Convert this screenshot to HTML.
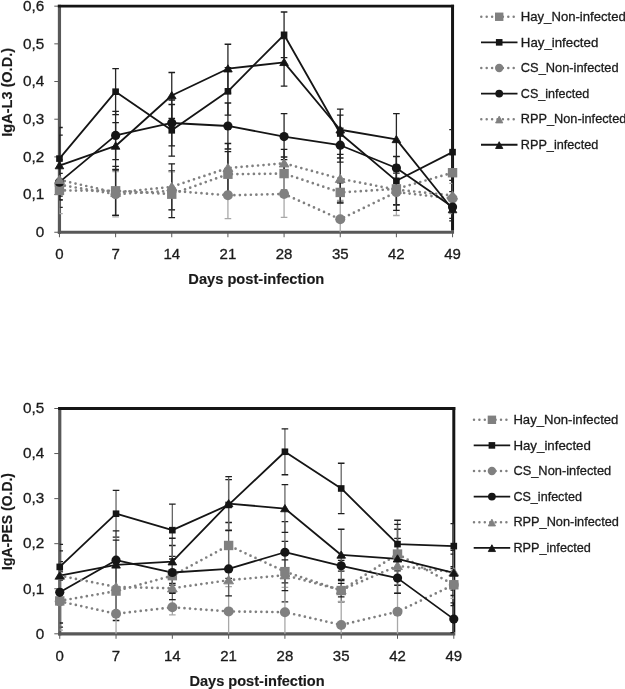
<!DOCTYPE html>
<html><head><meta charset="utf-8"><style>
html,body{margin:0;padding:0;background:#fff;}
body{width:625px;height:689px;overflow:hidden;}
svg{display:block;font-family:"Liberation Sans", sans-serif;filter:grayscale(1);}
text{stroke:#1a1a1a;stroke-width:0.3px;paint-order:stroke;}
text.b{stroke-width:0.15px;}
</style></head><body>
<svg width="625" height="689" viewBox="0 0 625 689">
<rect width="625" height="689" fill="#fff"/>
<line x1="54.3" y1="232.25" x2="59.45" y2="232.25" stroke="#585858" stroke-width="1"/>
<text x="44.2" y="237.05" text-anchor="end" font-size="15.3" fill="#1a1a1a">0</text>
<line x1="54.3" y1="194.57" x2="59.45" y2="194.57" stroke="#585858" stroke-width="1"/>
<text x="44.2" y="199.37" text-anchor="end" font-size="15.3" fill="#1a1a1a">0,1</text>
<line x1="54.3" y1="156.89" x2="59.45" y2="156.89" stroke="#585858" stroke-width="1"/>
<text x="44.2" y="161.69" text-anchor="end" font-size="15.3" fill="#1a1a1a">0,2</text>
<line x1="54.3" y1="119.21" x2="59.45" y2="119.21" stroke="#585858" stroke-width="1"/>
<text x="44.2" y="124.01" text-anchor="end" font-size="15.3" fill="#1a1a1a">0,3</text>
<line x1="54.3" y1="81.53" x2="59.45" y2="81.53" stroke="#585858" stroke-width="1"/>
<text x="44.2" y="86.33" text-anchor="end" font-size="15.3" fill="#1a1a1a">0,4</text>
<line x1="54.3" y1="43.85" x2="59.45" y2="43.85" stroke="#585858" stroke-width="1"/>
<text x="44.2" y="48.65" text-anchor="end" font-size="15.3" fill="#1a1a1a">0,5</text>
<line x1="54.3" y1="6.17" x2="59.45" y2="6.17" stroke="#585858" stroke-width="1"/>
<text x="44.2" y="10.97" text-anchor="end" font-size="15.3" fill="#1a1a1a">0,6</text>
<line x1="59.45" y1="232.25" x2="59.45" y2="237.25" stroke="#585858" stroke-width="1"/>
<text x="59.45" y="259.30" text-anchor="middle" font-size="15" fill="#1a1a1a">0</text>
<line x1="115.61" y1="232.25" x2="115.61" y2="237.25" stroke="#585858" stroke-width="1"/>
<text x="115.61" y="259.30" text-anchor="middle" font-size="15" fill="#1a1a1a">7</text>
<line x1="171.76" y1="232.25" x2="171.76" y2="237.25" stroke="#585858" stroke-width="1"/>
<text x="171.76" y="259.30" text-anchor="middle" font-size="15" fill="#1a1a1a">14</text>
<line x1="227.92" y1="232.25" x2="227.92" y2="237.25" stroke="#585858" stroke-width="1"/>
<text x="227.92" y="259.30" text-anchor="middle" font-size="15" fill="#1a1a1a">21</text>
<line x1="284.08" y1="232.25" x2="284.08" y2="237.25" stroke="#585858" stroke-width="1"/>
<text x="284.08" y="259.30" text-anchor="middle" font-size="15" fill="#1a1a1a">28</text>
<line x1="340.24" y1="232.25" x2="340.24" y2="237.25" stroke="#585858" stroke-width="1"/>
<text x="340.24" y="259.30" text-anchor="middle" font-size="15" fill="#1a1a1a">35</text>
<line x1="396.39" y1="232.25" x2="396.39" y2="237.25" stroke="#585858" stroke-width="1"/>
<text x="396.39" y="259.30" text-anchor="middle" font-size="15" fill="#1a1a1a">42</text>
<line x1="452.55" y1="232.25" x2="452.55" y2="237.25" stroke="#585858" stroke-width="1"/>
<text x="452.55" y="259.30" text-anchor="middle" font-size="15" fill="#1a1a1a">49</text>
<line x1="59.45" y1="4.77" x2="59.45" y2="233.85" stroke="#585858" stroke-width="3.2"/>
<line x1="57.85" y1="232.25" x2="454.05" y2="232.25" stroke="#585858" stroke-width="3.2"/>
<line x1="57.85" y1="6.17" x2="454.05" y2="6.17" stroke="#151515" stroke-width="2.8"/>
<line x1="452.55" y1="4.77" x2="452.55" y2="230.65" stroke="#151515" stroke-width="3"/>
<clipPath id="clipL3"><rect x="59.45" y="6.17" width="393.10" height="226.08"/></clipPath>
<g clip-path="url(#clipL3)">
<path d="M59.45,173.47V207.38" stroke="#262626" stroke-width="1.3" fill="none"/>
<path d="M56.15,173.47h6.6M56.15,207.38h6.6" stroke="#1e1e1e" stroke-width="1.3" fill="none"/>
<path d="M115.61,166.31V215.29" stroke="#262626" stroke-width="1.3" fill="none"/>
<path d="M112.31,166.31h6.6M112.31,215.29h6.6" stroke="#1e1e1e" stroke-width="1.3" fill="none"/>
<path d="M171.76,170.83V217.55" stroke="#262626" stroke-width="1.3" fill="none"/>
<path d="M168.46,170.83h6.6M168.46,217.55h6.6" stroke="#1e1e1e" stroke-width="1.3" fill="none"/>
<path d="M227.92,151.61V196.83" stroke="#262626" stroke-width="1.3" fill="none"/>
<path d="M224.62,151.61h6.6M224.62,196.83h6.6" stroke="#1e1e1e" stroke-width="1.3" fill="none"/>
<path d="M284.08,157.00V190.16" stroke="#262626" stroke-width="1.3" fill="none"/>
<path d="M280.78,157.00h6.6M280.78,190.16h6.6" stroke="#1e1e1e" stroke-width="1.3" fill="none"/>
<path d="M340.24,182.74V202.11" stroke="#262626" stroke-width="1.3" fill="none"/>
<path d="M336.94,182.74h6.6M336.94,202.11h6.6" stroke="#1e1e1e" stroke-width="1.3" fill="none"/>
<path d="M396.39,173.09V204.74" stroke="#262626" stroke-width="1.3" fill="none"/>
<path d="M393.09,173.09h6.6M393.09,204.74h6.6" stroke="#1e1e1e" stroke-width="1.3" fill="none"/>
<path d="M452.55,153.88V191.56" stroke="#262626" stroke-width="1.3" fill="none"/>
<path d="M449.25,153.88h6.6M449.25,191.56h6.6" stroke="#1e1e1e" stroke-width="1.3" fill="none"/>
<path d="M59.45,127.50V189.67" stroke="#262626" stroke-width="1.3" fill="none"/>
<path d="M56.15,127.50h6.6M56.15,189.67h6.6" stroke="#1e1e1e" stroke-width="1.3" fill="none"/>
<path d="M115.61,68.72V114.69" stroke="#262626" stroke-width="1.3" fill="none"/>
<path d="M112.31,68.72h6.6M112.31,114.69h6.6" stroke="#1e1e1e" stroke-width="1.3" fill="none"/>
<path d="M171.76,104.51V156.14" stroke="#262626" stroke-width="1.3" fill="none"/>
<path d="M168.46,104.51h6.6M168.46,156.14h6.6" stroke="#1e1e1e" stroke-width="1.3" fill="none"/>
<path d="M227.92,67.59V115.07" stroke="#262626" stroke-width="1.3" fill="none"/>
<path d="M224.62,67.59h6.6M224.62,115.07h6.6" stroke="#1e1e1e" stroke-width="1.3" fill="none"/>
<path d="M284.08,12.01V57.60" stroke="#262626" stroke-width="1.3" fill="none"/>
<path d="M280.78,12.01h6.6M280.78,57.60h6.6" stroke="#1e1e1e" stroke-width="1.3" fill="none"/>
<path d="M340.24,109.04V158.02" stroke="#262626" stroke-width="1.3" fill="none"/>
<path d="M336.94,109.04h6.6M336.94,158.02h6.6" stroke="#1e1e1e" stroke-width="1.3" fill="none"/>
<path d="M396.39,156.70V204.93" stroke="#262626" stroke-width="1.3" fill="none"/>
<path d="M393.09,156.70h6.6M393.09,204.93h6.6" stroke="#1e1e1e" stroke-width="1.3" fill="none"/>
<path d="M452.55,129.53V174.75" stroke="#262626" stroke-width="1.3" fill="none"/>
<path d="M449.25,129.53h6.6M449.25,174.75h6.6" stroke="#1e1e1e" stroke-width="1.3" fill="none"/>
<path d="M59.45,155.95V213.60" stroke="#a8a8a8" stroke-width="1.3" fill="none"/>
<path d="M56.15,155.95h6.6M56.15,213.60h6.6" stroke="#a8a8a8" stroke-width="1.3" fill="none"/>
<path d="M115.61,171.59V216.80" stroke="#a8a8a8" stroke-width="1.3" fill="none"/>
<path d="M112.31,171.59h6.6M112.31,216.80h6.6" stroke="#a8a8a8" stroke-width="1.3" fill="none"/>
<path d="M171.76,171.96V209.64" stroke="#a8a8a8" stroke-width="1.3" fill="none"/>
<path d="M168.46,171.96h6.6M168.46,209.64h6.6" stroke="#a8a8a8" stroke-width="1.3" fill="none"/>
<path d="M227.92,171.96V218.69" stroke="#a8a8a8" stroke-width="1.3" fill="none"/>
<path d="M224.62,171.96h6.6M224.62,218.69h6.6" stroke="#a8a8a8" stroke-width="1.3" fill="none"/>
<path d="M284.08,170.61V217.33" stroke="#a8a8a8" stroke-width="1.3" fill="none"/>
<path d="M280.78,170.61h6.6M280.78,217.33h6.6" stroke="#a8a8a8" stroke-width="1.3" fill="none"/>
<path d="M340.24,200.45V236.02" stroke="#a8a8a8" stroke-width="1.3" fill="none"/>
<path d="M336.94,200.45h6.6" stroke="#a8a8a8" stroke-width="1.3" fill="none"/>
<path d="M396.39,168.76V215.48" stroke="#a8a8a8" stroke-width="1.3" fill="none"/>
<path d="M393.09,168.76h6.6M393.09,215.48h6.6" stroke="#a8a8a8" stroke-width="1.3" fill="none"/>
<path d="M452.55,183.42V213.56" stroke="#a8a8a8" stroke-width="1.3" fill="none"/>
<path d="M449.25,183.42h6.6M449.25,213.56h6.6" stroke="#a8a8a8" stroke-width="1.3" fill="none"/>
<path d="M59.45,164.43V199.85" stroke="#262626" stroke-width="1.3" fill="none"/>
<path d="M56.15,164.43h6.6M56.15,199.85h6.6" stroke="#1e1e1e" stroke-width="1.3" fill="none"/>
<path d="M115.61,111.30V159.53" stroke="#262626" stroke-width="1.3" fill="none"/>
<path d="M112.31,111.30h6.6M112.31,159.53h6.6" stroke="#1e1e1e" stroke-width="1.3" fill="none"/>
<path d="M171.76,99.99V145.96" stroke="#262626" stroke-width="1.3" fill="none"/>
<path d="M168.46,99.99h6.6M168.46,145.96h6.6" stroke="#1e1e1e" stroke-width="1.3" fill="none"/>
<path d="M227.92,103.01V148.98" stroke="#262626" stroke-width="1.3" fill="none"/>
<path d="M224.62,103.01h6.6M224.62,148.98h6.6" stroke="#1e1e1e" stroke-width="1.3" fill="none"/>
<path d="M284.08,113.56V159.53" stroke="#262626" stroke-width="1.3" fill="none"/>
<path d="M280.78,113.56h6.6M280.78,159.53h6.6" stroke="#1e1e1e" stroke-width="1.3" fill="none"/>
<path d="M340.24,128.25V162.17" stroke="#262626" stroke-width="1.3" fill="none"/>
<path d="M336.94,128.25h6.6M336.94,162.17h6.6" stroke="#1e1e1e" stroke-width="1.3" fill="none"/>
<path d="M396.39,156.40V179.61" stroke="#262626" stroke-width="1.3" fill="none"/>
<path d="M393.09,156.40h6.6M393.09,179.61h6.6" stroke="#1e1e1e" stroke-width="1.3" fill="none"/>
<path d="M452.55,195.70V218.31" stroke="#262626" stroke-width="1.3" fill="none"/>
<path d="M449.25,195.70h6.6M449.25,218.31h6.6" stroke="#1e1e1e" stroke-width="1.3" fill="none"/>
<path d="M59.45,159.90V199.85" stroke="#262626" stroke-width="1.3" fill="none"/>
<path d="M56.15,159.90h6.6M56.15,199.85h6.6" stroke="#1e1e1e" stroke-width="1.3" fill="none"/>
<path d="M115.61,170.08V215.29" stroke="#262626" stroke-width="1.3" fill="none"/>
<path d="M112.31,170.08h6.6M112.31,215.29h6.6" stroke="#1e1e1e" stroke-width="1.3" fill="none"/>
<path d="M171.76,163.82V209.79" stroke="#262626" stroke-width="1.3" fill="none"/>
<path d="M168.46,163.82h6.6M168.46,209.79h6.6" stroke="#1e1e1e" stroke-width="1.3" fill="none"/>
<path d="M227.92,143.51V192.50" stroke="#262626" stroke-width="1.3" fill="none"/>
<path d="M224.62,143.51h6.6M224.62,192.50h6.6" stroke="#1e1e1e" stroke-width="1.3" fill="none"/>
<path d="M284.08,149.35V177.24" stroke="#262626" stroke-width="1.3" fill="none"/>
<path d="M280.78,149.35h6.6M280.78,177.24h6.6" stroke="#1e1e1e" stroke-width="1.3" fill="none"/>
<path d="M340.24,154.40V203.09" stroke="#262626" stroke-width="1.3" fill="none"/>
<path d="M336.94,154.40h6.6M336.94,203.09h6.6" stroke="#1e1e1e" stroke-width="1.3" fill="none"/>
<path d="M396.39,168.95V210.40" stroke="#262626" stroke-width="1.3" fill="none"/>
<path d="M393.09,168.95h6.6M393.09,210.40h6.6" stroke="#1e1e1e" stroke-width="1.3" fill="none"/>
<path d="M452.55,180.44V210.58" stroke="#262626" stroke-width="1.3" fill="none"/>
<path d="M449.25,180.44h6.6M449.25,210.58h6.6" stroke="#1e1e1e" stroke-width="1.3" fill="none"/>
<path d="M59.45,135.04V196.08" stroke="#262626" stroke-width="1.3" fill="none"/>
<path d="M56.15,135.04h6.6M56.15,196.08h6.6" stroke="#1e1e1e" stroke-width="1.3" fill="none"/>
<path d="M115.61,122.60V169.32" stroke="#262626" stroke-width="1.3" fill="none"/>
<path d="M112.31,122.60h6.6M112.31,169.32h6.6" stroke="#1e1e1e" stroke-width="1.3" fill="none"/>
<path d="M171.76,72.49V118.46" stroke="#262626" stroke-width="1.3" fill="none"/>
<path d="M168.46,72.49h6.6M168.46,118.46h6.6" stroke="#1e1e1e" stroke-width="1.3" fill="none"/>
<path d="M227.92,44.23V93.21" stroke="#262626" stroke-width="1.3" fill="none"/>
<path d="M224.62,44.23h6.6M224.62,93.21h6.6" stroke="#1e1e1e" stroke-width="1.3" fill="none"/>
<path d="M284.08,38.57V86.05" stroke="#262626" stroke-width="1.3" fill="none"/>
<path d="M280.78,38.57h6.6M280.78,86.05h6.6" stroke="#1e1e1e" stroke-width="1.3" fill="none"/>
<path d="M340.24,115.07V144.46" stroke="#262626" stroke-width="1.3" fill="none"/>
<path d="M336.94,115.07h6.6M336.94,144.46h6.6" stroke="#1e1e1e" stroke-width="1.3" fill="none"/>
<path d="M396.39,113.71V165.10" stroke="#262626" stroke-width="1.3" fill="none"/>
<path d="M393.09,113.71h6.6M393.09,165.10h6.6" stroke="#1e1e1e" stroke-width="1.3" fill="none"/>
<path d="M452.55,198.22V220.83" stroke="#262626" stroke-width="1.3" fill="none"/>
<path d="M449.25,198.22h6.6M449.25,220.83h6.6" stroke="#1e1e1e" stroke-width="1.3" fill="none"/>
</g>
<polyline points="59.45,190.43 115.61,190.80 171.76,194.19 227.92,174.22 284.08,173.58 340.24,192.42 396.39,188.92 452.55,172.72" fill="none" stroke="#808080" stroke-width="2.7" stroke-dasharray="0 5.5" stroke-linecap="round"/>
<polyline points="59.45,158.59 115.61,91.70 171.76,130.33 227.92,91.33 284.08,34.81 340.24,133.53 396.39,180.82 452.55,152.14" fill="none" stroke="#151515" stroke-width="1.8" stroke-linejoin="round"/>
<polyline points="59.45,184.77 115.61,194.19 171.76,190.80 227.92,195.32 284.08,193.97 340.24,219.29 396.39,192.12 452.55,198.49" fill="none" stroke="#808080" stroke-width="2.7" stroke-dasharray="0 5.5" stroke-linecap="round"/>
<polyline points="59.45,182.14 115.61,135.41 171.76,122.98 227.92,125.99 284.08,136.54 340.24,145.21 396.39,168.01 452.55,207.00" fill="none" stroke="#151515" stroke-width="1.8" stroke-linejoin="round"/>
<polyline points="59.45,179.87 115.61,192.69 171.76,186.81 227.92,168.01 284.08,163.30 340.24,178.74 396.39,189.67 452.55,195.51" fill="none" stroke="#808080" stroke-width="2.7" stroke-dasharray="0 5.5" stroke-linecap="round"/>
<polyline points="59.45,165.56 115.61,145.96 171.76,95.47 227.92,68.72 284.08,62.31 340.24,129.76 396.39,139.41 452.55,209.53" fill="none" stroke="#151515" stroke-width="1.8" stroke-linejoin="round"/>
<circle cx="59.45" cy="184.77" r="5.0" fill="#808080"/>
<circle cx="115.61" cy="194.19" r="5.0" fill="#808080"/>
<circle cx="171.76" cy="190.80" r="5.0" fill="#808080"/>
<circle cx="227.92" cy="195.32" r="5.0" fill="#808080"/>
<circle cx="284.08" cy="193.97" r="5.0" fill="#808080"/>
<circle cx="340.24" cy="219.29" r="5.0" fill="#808080"/>
<circle cx="396.39" cy="192.12" r="5.0" fill="#808080"/>
<circle cx="452.55" cy="198.49" r="5.0" fill="#808080"/>
<rect x="54.75" y="185.73" width="9.4" height="9.4" fill="#808080"/>
<rect x="110.91" y="186.10" width="9.4" height="9.4" fill="#808080"/>
<rect x="167.06" y="189.49" width="9.4" height="9.4" fill="#808080"/>
<rect x="223.22" y="169.52" width="9.4" height="9.4" fill="#808080"/>
<rect x="279.38" y="168.88" width="9.4" height="9.4" fill="#808080"/>
<rect x="335.54" y="187.72" width="9.4" height="9.4" fill="#808080"/>
<rect x="391.69" y="184.22" width="9.4" height="9.4" fill="#808080"/>
<rect x="447.85" y="168.02" width="9.4" height="9.4" fill="#808080"/>
<rect x="56.15" y="155.29" width="6.6" height="6.6" fill="#151515"/>
<rect x="112.31" y="88.40" width="6.6" height="6.6" fill="#151515"/>
<rect x="168.46" y="127.03" width="6.6" height="6.6" fill="#151515"/>
<rect x="224.62" y="88.03" width="6.6" height="6.6" fill="#151515"/>
<rect x="280.78" y="31.51" width="6.6" height="6.6" fill="#151515"/>
<rect x="336.94" y="130.23" width="6.6" height="6.6" fill="#151515"/>
<rect x="393.09" y="177.52" width="6.6" height="6.6" fill="#151515"/>
<rect x="449.25" y="148.84" width="6.6" height="6.6" fill="#151515"/>
<circle cx="59.45" cy="182.14" r="4.6" fill="#151515"/>
<circle cx="115.61" cy="135.41" r="4.6" fill="#151515"/>
<circle cx="171.76" cy="122.98" r="4.6" fill="#151515"/>
<circle cx="227.92" cy="125.99" r="4.6" fill="#151515"/>
<circle cx="284.08" cy="136.54" r="4.6" fill="#151515"/>
<circle cx="340.24" cy="145.21" r="4.6" fill="#151515"/>
<circle cx="396.39" cy="168.01" r="4.6" fill="#151515"/>
<circle cx="452.55" cy="207.00" r="4.6" fill="#151515"/>
<path d="M59.45,175.36L64.35,183.56L54.55,183.56Z" fill="#808080" stroke="#808080" stroke-width="0.9" stroke-linejoin="round"/>
<path d="M115.61,188.18L120.51,196.38L110.71,196.38Z" fill="#808080" stroke="#808080" stroke-width="0.9" stroke-linejoin="round"/>
<path d="M171.76,182.30L176.66,190.50L166.86,190.50Z" fill="#808080" stroke="#808080" stroke-width="0.9" stroke-linejoin="round"/>
<path d="M227.92,163.50L232.82,171.70L223.02,171.70Z" fill="#808080" stroke="#808080" stroke-width="0.9" stroke-linejoin="round"/>
<path d="M284.08,158.79L288.98,166.99L279.18,166.99Z" fill="#808080" stroke="#808080" stroke-width="0.9" stroke-linejoin="round"/>
<path d="M340.24,174.23L345.14,182.43L335.34,182.43Z" fill="#808080" stroke="#808080" stroke-width="0.9" stroke-linejoin="round"/>
<path d="M396.39,185.16L401.29,193.36L391.49,193.36Z" fill="#808080" stroke="#808080" stroke-width="0.9" stroke-linejoin="round"/>
<path d="M452.55,191.00L457.45,199.20L447.65,199.20Z" fill="#808080" stroke="#808080" stroke-width="0.9" stroke-linejoin="round"/>
<path d="M59.45,161.60L63.75,168.80L55.15,168.80Z" fill="#151515" stroke="#151515" stroke-width="0.9" stroke-linejoin="round"/>
<path d="M115.61,142.00L119.91,149.20L111.31,149.20Z" fill="#151515" stroke="#151515" stroke-width="0.9" stroke-linejoin="round"/>
<path d="M171.76,91.51L176.06,98.71L167.46,98.71Z" fill="#151515" stroke="#151515" stroke-width="0.9" stroke-linejoin="round"/>
<path d="M227.92,64.76L232.22,71.96L223.62,71.96Z" fill="#151515" stroke="#151515" stroke-width="0.9" stroke-linejoin="round"/>
<path d="M284.08,58.35L288.38,65.55L279.78,65.55Z" fill="#151515" stroke="#151515" stroke-width="0.9" stroke-linejoin="round"/>
<path d="M340.24,125.80L344.54,133.00L335.94,133.00Z" fill="#151515" stroke="#151515" stroke-width="0.9" stroke-linejoin="round"/>
<path d="M396.39,135.45L400.69,142.65L392.09,142.65Z" fill="#151515" stroke="#151515" stroke-width="0.9" stroke-linejoin="round"/>
<path d="M452.55,205.57L456.85,212.77L448.25,212.77Z" fill="#151515" stroke="#151515" stroke-width="0.9" stroke-linejoin="round"/>
<text transform="translate(11.9,136.70) rotate(-90)" class="b" font-size="15" font-weight="bold" fill="#1a1a1a" textLength="88.7" lengthAdjust="spacingAndGlyphs">IgA-L3 (O.D.)</text>
<text x="188.30" y="283.60" class="b" font-size="14" font-weight="bold" fill="#1a1a1a" textLength="136.00" lengthAdjust="spacingAndGlyphs">Days post-infection</text>
<line x1="481.30" y1="16.75" x2="516.00" y2="16.75" stroke="#808080" stroke-width="2.5" stroke-dasharray="0 5.4" stroke-linecap="round"/>
<rect x="495.00" y="12.55" width="8.4" height="8.4" fill="#808080"/>
<text x="520.80" y="20.95" font-size="13.4" fill="#1a1a1a" textLength="105" lengthAdjust="spacingAndGlyphs">Hay_Non-infected</text>
<line x1="481.00" y1="42.35" x2="517.50" y2="42.35" stroke="#151515" stroke-width="1.8"/>
<rect x="495.90" y="39.05" width="6.6" height="6.6" fill="#151515"/>
<text x="520.80" y="46.55" font-size="13.4" fill="#1a1a1a" textLength="77.5" lengthAdjust="spacingAndGlyphs">Hay_infected</text>
<line x1="481.30" y1="67.95" x2="516.00" y2="67.95" stroke="#808080" stroke-width="2.5" stroke-dasharray="0 5.4" stroke-linecap="round"/>
<circle cx="499.20" cy="67.95" r="4.2" fill="#808080"/>
<text x="520.80" y="72.15" font-size="13.4" fill="#1a1a1a" textLength="97.8" lengthAdjust="spacingAndGlyphs">CS_Non-infected</text>
<line x1="481.00" y1="93.55" x2="517.50" y2="93.55" stroke="#151515" stroke-width="1.8"/>
<circle cx="499.20" cy="93.55" r="3.9" fill="#151515"/>
<text x="520.80" y="97.75" font-size="13.4" fill="#1a1a1a" textLength="68.5" lengthAdjust="spacingAndGlyphs">CS_infected</text>
<line x1="481.30" y1="119.15" x2="516.00" y2="119.15" stroke="#808080" stroke-width="2.5" stroke-dasharray="0 5.4" stroke-linecap="round"/>
<path d="M499.20,116.11L502.80,122.91L495.60,122.91Z" fill="#808080" stroke="#808080" stroke-width="0.9" stroke-linejoin="round"/>
<text x="520.80" y="123.35" font-size="13.4" fill="#1a1a1a" textLength="105.5" lengthAdjust="spacingAndGlyphs">RPP_Non-infected</text>
<line x1="481.00" y1="144.75" x2="517.50" y2="144.75" stroke="#151515" stroke-width="1.8"/>
<path d="M499.20,141.71L502.80,148.51L495.60,148.51Z" fill="#151515" stroke="#151515" stroke-width="0.9" stroke-linejoin="round"/>
<text x="520.80" y="148.95" font-size="13.4" fill="#1a1a1a" textLength="77.5" lengthAdjust="spacingAndGlyphs">RPP_infected</text>
<line x1="54.3" y1="633.80" x2="59.75" y2="633.80" stroke="#585858" stroke-width="1"/>
<text x="44.2" y="638.60" text-anchor="end" font-size="15.3" fill="#1a1a1a">0</text>
<line x1="54.3" y1="588.74" x2="59.75" y2="588.74" stroke="#585858" stroke-width="1"/>
<text x="44.2" y="593.54" text-anchor="end" font-size="15.3" fill="#1a1a1a">0,1</text>
<line x1="54.3" y1="543.68" x2="59.75" y2="543.68" stroke="#585858" stroke-width="1"/>
<text x="44.2" y="548.48" text-anchor="end" font-size="15.3" fill="#1a1a1a">0,2</text>
<line x1="54.3" y1="498.62" x2="59.75" y2="498.62" stroke="#585858" stroke-width="1"/>
<text x="44.2" y="503.42" text-anchor="end" font-size="15.3" fill="#1a1a1a">0,3</text>
<line x1="54.3" y1="453.56" x2="59.75" y2="453.56" stroke="#585858" stroke-width="1"/>
<text x="44.2" y="458.36" text-anchor="end" font-size="15.3" fill="#1a1a1a">0,4</text>
<line x1="54.3" y1="408.50" x2="59.75" y2="408.50" stroke="#585858" stroke-width="1"/>
<text x="44.2" y="413.30" text-anchor="end" font-size="15.3" fill="#1a1a1a">0,5</text>
<line x1="59.75" y1="633.80" x2="59.75" y2="638.80" stroke="#585858" stroke-width="1"/>
<text x="59.75" y="660.60" text-anchor="middle" font-size="15" fill="#1a1a1a">0</text>
<line x1="116.04" y1="633.80" x2="116.04" y2="638.80" stroke="#585858" stroke-width="1"/>
<text x="116.04" y="660.60" text-anchor="middle" font-size="15" fill="#1a1a1a">7</text>
<line x1="172.34" y1="633.80" x2="172.34" y2="638.80" stroke="#585858" stroke-width="1"/>
<text x="172.34" y="660.60" text-anchor="middle" font-size="15" fill="#1a1a1a">14</text>
<line x1="228.63" y1="633.80" x2="228.63" y2="638.80" stroke="#585858" stroke-width="1"/>
<text x="228.63" y="660.60" text-anchor="middle" font-size="15" fill="#1a1a1a">21</text>
<line x1="284.92" y1="633.80" x2="284.92" y2="638.80" stroke="#585858" stroke-width="1"/>
<text x="284.92" y="660.60" text-anchor="middle" font-size="15" fill="#1a1a1a">28</text>
<line x1="341.21" y1="633.80" x2="341.21" y2="638.80" stroke="#585858" stroke-width="1"/>
<text x="341.21" y="660.60" text-anchor="middle" font-size="15" fill="#1a1a1a">35</text>
<line x1="397.51" y1="633.80" x2="397.51" y2="638.80" stroke="#585858" stroke-width="1"/>
<text x="397.51" y="660.60" text-anchor="middle" font-size="15" fill="#1a1a1a">42</text>
<line x1="453.80" y1="633.80" x2="453.80" y2="638.80" stroke="#585858" stroke-width="1"/>
<text x="453.80" y="660.60" text-anchor="middle" font-size="15" fill="#1a1a1a">49</text>
<line x1="59.75" y1="407.10" x2="59.75" y2="635.40" stroke="#585858" stroke-width="3.2"/>
<line x1="58.15" y1="633.80" x2="455.30" y2="633.80" stroke="#585858" stroke-width="3.2"/>
<line x1="58.15" y1="408.50" x2="455.30" y2="408.50" stroke="#151515" stroke-width="2.8"/>
<line x1="453.80" y1="407.10" x2="453.80" y2="632.20" stroke="#151515" stroke-width="3"/>
<clipPath id="clipPE"><rect x="59.75" y="408.50" width="394.05" height="225.30"/></clipPath>
<g clip-path="url(#clipPE)">
<path d="M59.75,574.77V627.04" stroke="#666666" stroke-width="1.3" fill="none"/>
<path d="M56.45,574.77h6.6M56.45,627.04h6.6" stroke="#1e1e1e" stroke-width="1.3" fill="none"/>
<path d="M116.04,561.66V620.51" stroke="#666666" stroke-width="1.3" fill="none"/>
<path d="M112.74,561.66h6.6M112.74,620.51h6.6" stroke="#1e1e1e" stroke-width="1.3" fill="none"/>
<path d="M172.34,559.00V592.34" stroke="#666666" stroke-width="1.3" fill="none"/>
<path d="M169.04,559.00h6.6M169.04,592.34h6.6" stroke="#1e1e1e" stroke-width="1.3" fill="none"/>
<path d="M228.63,522.50V568.46" stroke="#666666" stroke-width="1.3" fill="none"/>
<path d="M225.33,522.50h6.6M225.33,568.46h6.6" stroke="#1e1e1e" stroke-width="1.3" fill="none"/>
<path d="M284.92,541.43V601.81" stroke="#666666" stroke-width="1.3" fill="none"/>
<path d="M281.62,541.43h6.6M281.62,601.81h6.6" stroke="#1e1e1e" stroke-width="1.3" fill="none"/>
<path d="M341.21,579.28V601.81" stroke="#666666" stroke-width="1.3" fill="none"/>
<path d="M337.91,579.28h6.6M337.91,601.81h6.6" stroke="#1e1e1e" stroke-width="1.3" fill="none"/>
<path d="M397.51,529.26V578.83" stroke="#666666" stroke-width="1.3" fill="none"/>
<path d="M394.21,529.26h6.6M394.21,578.83h6.6" stroke="#1e1e1e" stroke-width="1.3" fill="none"/>
<path d="M453.80,566.75V602.80" stroke="#666666" stroke-width="1.3" fill="none"/>
<path d="M450.50,566.75h6.6M450.50,602.80h6.6" stroke="#1e1e1e" stroke-width="1.3" fill="none"/>
<path d="M59.75,544.36V589.42" stroke="#666666" stroke-width="1.3" fill="none"/>
<path d="M56.45,544.36h6.6M56.45,589.42h6.6" stroke="#1e1e1e" stroke-width="1.3" fill="none"/>
<path d="M116.04,490.28V537.15" stroke="#666666" stroke-width="1.3" fill="none"/>
<path d="M112.74,490.28h6.6M112.74,537.15h6.6" stroke="#1e1e1e" stroke-width="1.3" fill="none"/>
<path d="M172.34,504.03V556.30" stroke="#666666" stroke-width="1.3" fill="none"/>
<path d="M169.04,504.03h6.6M169.04,556.30h6.6" stroke="#1e1e1e" stroke-width="1.3" fill="none"/>
<path d="M228.63,479.69V530.16" stroke="#666666" stroke-width="1.3" fill="none"/>
<path d="M225.33,479.69h6.6M225.33,530.16h6.6" stroke="#1e1e1e" stroke-width="1.3" fill="none"/>
<path d="M284.92,428.78V474.74" stroke="#666666" stroke-width="1.3" fill="none"/>
<path d="M281.62,428.78h6.6M281.62,474.74h6.6" stroke="#1e1e1e" stroke-width="1.3" fill="none"/>
<path d="M341.21,463.25V513.72" stroke="#666666" stroke-width="1.3" fill="none"/>
<path d="M337.91,463.25h6.6M337.91,513.72h6.6" stroke="#1e1e1e" stroke-width="1.3" fill="none"/>
<path d="M397.51,520.25V568.01" stroke="#666666" stroke-width="1.3" fill="none"/>
<path d="M394.21,520.25h6.6M394.21,568.01h6.6" stroke="#1e1e1e" stroke-width="1.3" fill="none"/>
<path d="M453.80,523.58V568.64" stroke="#666666" stroke-width="1.3" fill="none"/>
<path d="M450.50,523.58h6.6M450.50,568.64h6.6" stroke="#1e1e1e" stroke-width="1.3" fill="none"/>
<path d="M59.75,572.52V630.20" stroke="#a8a8a8" stroke-width="1.3" fill="none"/>
<path d="M56.45,572.52h6.6M56.45,630.20h6.6" stroke="#a8a8a8" stroke-width="1.3" fill="none"/>
<path d="M116.04,586.76V638.31" stroke="#a8a8a8" stroke-width="1.3" fill="none"/>
<path d="M112.74,586.76h6.6" stroke="#a8a8a8" stroke-width="1.3" fill="none"/>
<path d="M172.34,599.64V614.96" stroke="#a8a8a8" stroke-width="1.3" fill="none"/>
<path d="M169.04,599.64h6.6M169.04,614.96h6.6" stroke="#a8a8a8" stroke-width="1.3" fill="none"/>
<path d="M228.63,586.62V636.19" stroke="#a8a8a8" stroke-width="1.3" fill="none"/>
<path d="M225.33,586.62h6.6" stroke="#a8a8a8" stroke-width="1.3" fill="none"/>
<path d="M284.92,587.39V636.95" stroke="#a8a8a8" stroke-width="1.3" fill="none"/>
<path d="M281.62,587.39h6.6" stroke="#a8a8a8" stroke-width="1.3" fill="none"/>
<path d="M341.21,601.49V638.31" stroke="#a8a8a8" stroke-width="1.3" fill="none"/>
<path d="M337.91,601.49h6.6" stroke="#a8a8a8" stroke-width="1.3" fill="none"/>
<path d="M397.51,584.68V638.31" stroke="#a8a8a8" stroke-width="1.3" fill="none"/>
<path d="M394.21,584.68h6.6" stroke="#a8a8a8" stroke-width="1.3" fill="none"/>
<path d="M453.80,571.26V598.29" stroke="#a8a8a8" stroke-width="1.3" fill="none"/>
<path d="M450.50,571.26h6.6M450.50,598.29h6.6" stroke="#a8a8a8" stroke-width="1.3" fill="none"/>
<path d="M59.75,561.70V622.99" stroke="#666666" stroke-width="1.3" fill="none"/>
<path d="M56.45,561.70h6.6M56.45,622.99h6.6" stroke="#1e1e1e" stroke-width="1.3" fill="none"/>
<path d="M116.04,530.93V589.51" stroke="#666666" stroke-width="1.3" fill="none"/>
<path d="M112.74,530.93h6.6M112.74,589.51h6.6" stroke="#1e1e1e" stroke-width="1.3" fill="none"/>
<path d="M172.34,545.48V599.55" stroke="#666666" stroke-width="1.3" fill="none"/>
<path d="M169.04,545.48h6.6M169.04,599.55h6.6" stroke="#1e1e1e" stroke-width="1.3" fill="none"/>
<path d="M228.63,541.88V595.95" stroke="#666666" stroke-width="1.3" fill="none"/>
<path d="M225.33,541.88h6.6M225.33,595.95h6.6" stroke="#1e1e1e" stroke-width="1.3" fill="none"/>
<path d="M284.92,521.60V582.88" stroke="#666666" stroke-width="1.3" fill="none"/>
<path d="M281.62,521.60h6.6M281.62,582.88h6.6" stroke="#1e1e1e" stroke-width="1.3" fill="none"/>
<path d="M341.21,560.35V571.17" stroke="#666666" stroke-width="1.3" fill="none"/>
<path d="M337.91,560.35h6.6M337.91,571.17h6.6" stroke="#1e1e1e" stroke-width="1.3" fill="none"/>
<path d="M397.51,570.90V585.32" stroke="#666666" stroke-width="1.3" fill="none"/>
<path d="M394.21,570.90h6.6M394.21,585.32h6.6" stroke="#1e1e1e" stroke-width="1.3" fill="none"/>
<path d="M453.80,605.59V632.63" stroke="#666666" stroke-width="1.3" fill="none"/>
<path d="M450.50,605.59h6.6M450.50,632.63h6.6" stroke="#1e1e1e" stroke-width="1.3" fill="none"/>
<path d="M59.75,571.17V580.18" stroke="#666666" stroke-width="1.3" fill="none"/>
<path d="M56.45,571.17h6.6M56.45,580.18h6.6" stroke="#1e1e1e" stroke-width="1.3" fill="none"/>
<path d="M116.04,559.90V613.97" stroke="#666666" stroke-width="1.3" fill="none"/>
<path d="M112.74,559.90h6.6M112.74,613.97h6.6" stroke="#1e1e1e" stroke-width="1.3" fill="none"/>
<path d="M172.34,583.33V593.25" stroke="#666666" stroke-width="1.3" fill="none"/>
<path d="M169.04,583.33h6.6M169.04,593.25h6.6" stroke="#1e1e1e" stroke-width="1.3" fill="none"/>
<path d="M228.63,578.38V581.98" stroke="#666666" stroke-width="1.3" fill="none"/>
<path d="M225.33,578.38h6.6M225.33,581.98h6.6" stroke="#1e1e1e" stroke-width="1.3" fill="none"/>
<path d="M284.92,559.90V590.54" stroke="#666666" stroke-width="1.3" fill="none"/>
<path d="M281.62,559.90h6.6M281.62,590.54h6.6" stroke="#1e1e1e" stroke-width="1.3" fill="none"/>
<path d="M341.21,583.33V596.85" stroke="#666666" stroke-width="1.3" fill="none"/>
<path d="M337.91,583.33h6.6M337.91,596.85h6.6" stroke="#1e1e1e" stroke-width="1.3" fill="none"/>
<path d="M397.51,538.41V593.38" stroke="#666666" stroke-width="1.3" fill="none"/>
<path d="M394.21,538.41h6.6M394.21,593.38h6.6" stroke="#1e1e1e" stroke-width="1.3" fill="none"/>
<path d="M453.80,554.04V590.09" stroke="#666666" stroke-width="1.3" fill="none"/>
<path d="M450.50,554.04h6.6M450.50,590.09h6.6" stroke="#1e1e1e" stroke-width="1.3" fill="none"/>
<path d="M59.75,550.89V600.46" stroke="#666666" stroke-width="1.3" fill="none"/>
<path d="M56.45,550.89h6.6M56.45,600.46h6.6" stroke="#1e1e1e" stroke-width="1.3" fill="none"/>
<path d="M116.04,540.08V589.64" stroke="#666666" stroke-width="1.3" fill="none"/>
<path d="M112.74,540.08h6.6M112.74,589.64h6.6" stroke="#1e1e1e" stroke-width="1.3" fill="none"/>
<path d="M172.34,538.27V585.14" stroke="#666666" stroke-width="1.3" fill="none"/>
<path d="M169.04,538.27h6.6M169.04,585.14h6.6" stroke="#1e1e1e" stroke-width="1.3" fill="none"/>
<path d="M228.63,476.54V530.61" stroke="#666666" stroke-width="1.3" fill="none"/>
<path d="M225.33,476.54h6.6M225.33,530.61h6.6" stroke="#1e1e1e" stroke-width="1.3" fill="none"/>
<path d="M284.92,484.65V532.41" stroke="#666666" stroke-width="1.3" fill="none"/>
<path d="M281.62,484.65h6.6M281.62,532.41h6.6" stroke="#1e1e1e" stroke-width="1.3" fill="none"/>
<path d="M341.21,529.26V580.63" stroke="#666666" stroke-width="1.3" fill="none"/>
<path d="M337.91,529.26h6.6M337.91,580.63h6.6" stroke="#1e1e1e" stroke-width="1.3" fill="none"/>
<path d="M397.51,524.30V593.25" stroke="#666666" stroke-width="1.3" fill="none"/>
<path d="M394.21,524.30h6.6M394.21,593.25h6.6" stroke="#1e1e1e" stroke-width="1.3" fill="none"/>
<path d="M453.80,550.44V595.50" stroke="#666666" stroke-width="1.3" fill="none"/>
<path d="M450.50,550.44h6.6M450.50,595.50h6.6" stroke="#1e1e1e" stroke-width="1.3" fill="none"/>
</g>
<polyline points="59.75,600.91 116.04,591.08 172.34,575.67 228.63,545.48 284.92,571.62 341.21,590.54 397.51,554.04 453.80,584.77" fill="none" stroke="#808080" stroke-width="2.7" stroke-dasharray="0 5.5" stroke-linecap="round"/>
<polyline points="59.75,566.89 116.04,513.72 172.34,530.16 228.63,504.93 284.92,451.76 341.21,488.48 397.51,544.13 453.80,546.11" fill="none" stroke="#151515" stroke-width="1.8" stroke-linejoin="round"/>
<polyline points="59.75,601.36 116.04,613.79 172.34,607.30 228.63,611.41 284.92,612.17 341.21,624.92 397.51,611.72 453.80,584.77" fill="none" stroke="#808080" stroke-width="2.7" stroke-dasharray="0 5.5" stroke-linecap="round"/>
<polyline points="59.75,592.34 116.04,560.22 172.34,572.52 228.63,568.91 284.92,552.24 341.21,565.76 397.51,578.11 453.80,619.11" fill="none" stroke="#151515" stroke-width="1.8" stroke-linejoin="round"/>
<polyline points="59.75,575.67 116.04,586.94 172.34,588.29 228.63,580.18 284.92,575.22 341.21,590.09 397.51,565.89 453.80,572.07" fill="none" stroke="#808080" stroke-width="2.7" stroke-dasharray="0 5.5" stroke-linecap="round"/>
<polyline points="59.75,575.67 116.04,564.86 172.34,561.70 228.63,503.58 284.92,508.53 341.21,554.94 397.51,558.78 453.80,572.97" fill="none" stroke="#151515" stroke-width="1.8" stroke-linejoin="round"/>
<circle cx="59.75" cy="601.36" r="5.0" fill="#808080"/>
<circle cx="116.04" cy="613.79" r="5.0" fill="#808080"/>
<circle cx="172.34" cy="607.30" r="5.0" fill="#808080"/>
<circle cx="228.63" cy="611.41" r="5.0" fill="#808080"/>
<circle cx="284.92" cy="612.17" r="5.0" fill="#808080"/>
<circle cx="341.21" cy="624.92" r="5.0" fill="#808080"/>
<circle cx="397.51" cy="611.72" r="5.0" fill="#808080"/>
<circle cx="453.80" cy="584.77" r="5.0" fill="#808080"/>
<rect x="55.05" y="596.21" width="9.4" height="9.4" fill="#808080"/>
<rect x="111.34" y="586.38" width="9.4" height="9.4" fill="#808080"/>
<rect x="167.64" y="570.97" width="9.4" height="9.4" fill="#808080"/>
<rect x="223.93" y="540.78" width="9.4" height="9.4" fill="#808080"/>
<rect x="280.22" y="566.92" width="9.4" height="9.4" fill="#808080"/>
<rect x="336.51" y="585.84" width="9.4" height="9.4" fill="#808080"/>
<rect x="392.81" y="549.34" width="9.4" height="9.4" fill="#808080"/>
<rect x="449.10" y="580.07" width="9.4" height="9.4" fill="#808080"/>
<rect x="56.45" y="563.59" width="6.6" height="6.6" fill="#151515"/>
<rect x="112.74" y="510.42" width="6.6" height="6.6" fill="#151515"/>
<rect x="169.04" y="526.86" width="6.6" height="6.6" fill="#151515"/>
<rect x="225.33" y="501.63" width="6.6" height="6.6" fill="#151515"/>
<rect x="281.62" y="448.46" width="6.6" height="6.6" fill="#151515"/>
<rect x="337.91" y="485.18" width="6.6" height="6.6" fill="#151515"/>
<rect x="394.21" y="540.83" width="6.6" height="6.6" fill="#151515"/>
<rect x="450.50" y="542.81" width="6.6" height="6.6" fill="#151515"/>
<circle cx="59.75" cy="592.34" r="4.6" fill="#151515"/>
<circle cx="116.04" cy="560.22" r="4.6" fill="#151515"/>
<circle cx="172.34" cy="572.52" r="4.6" fill="#151515"/>
<circle cx="228.63" cy="568.91" r="4.6" fill="#151515"/>
<circle cx="284.92" cy="552.24" r="4.6" fill="#151515"/>
<circle cx="341.21" cy="565.76" r="4.6" fill="#151515"/>
<circle cx="397.51" cy="578.11" r="4.6" fill="#151515"/>
<circle cx="453.80" cy="619.11" r="4.6" fill="#151515"/>
<path d="M59.75,571.16L64.65,579.36L54.85,579.36Z" fill="#808080" stroke="#808080" stroke-width="0.9" stroke-linejoin="round"/>
<path d="M116.04,582.43L120.94,590.63L111.14,590.63Z" fill="#808080" stroke="#808080" stroke-width="0.9" stroke-linejoin="round"/>
<path d="M172.34,583.78L177.24,591.98L167.44,591.98Z" fill="#808080" stroke="#808080" stroke-width="0.9" stroke-linejoin="round"/>
<path d="M228.63,575.67L233.53,583.87L223.73,583.87Z" fill="#808080" stroke="#808080" stroke-width="0.9" stroke-linejoin="round"/>
<path d="M284.92,570.71L289.82,578.91L280.02,578.91Z" fill="#808080" stroke="#808080" stroke-width="0.9" stroke-linejoin="round"/>
<path d="M341.21,585.58L346.11,593.78L336.31,593.78Z" fill="#808080" stroke="#808080" stroke-width="0.9" stroke-linejoin="round"/>
<path d="M397.51,561.38L402.41,569.58L392.61,569.58Z" fill="#808080" stroke="#808080" stroke-width="0.9" stroke-linejoin="round"/>
<path d="M453.80,567.56L458.70,575.76L448.90,575.76Z" fill="#808080" stroke="#808080" stroke-width="0.9" stroke-linejoin="round"/>
<path d="M59.75,571.71L64.05,578.91L55.45,578.91Z" fill="#151515" stroke="#151515" stroke-width="0.9" stroke-linejoin="round"/>
<path d="M116.04,560.90L120.34,568.10L111.74,568.10Z" fill="#151515" stroke="#151515" stroke-width="0.9" stroke-linejoin="round"/>
<path d="M172.34,557.74L176.64,564.94L168.04,564.94Z" fill="#151515" stroke="#151515" stroke-width="0.9" stroke-linejoin="round"/>
<path d="M228.63,499.62L232.93,506.82L224.33,506.82Z" fill="#151515" stroke="#151515" stroke-width="0.9" stroke-linejoin="round"/>
<path d="M284.92,504.57L289.22,511.77L280.62,511.77Z" fill="#151515" stroke="#151515" stroke-width="0.9" stroke-linejoin="round"/>
<path d="M341.21,550.98L345.51,558.18L336.91,558.18Z" fill="#151515" stroke="#151515" stroke-width="0.9" stroke-linejoin="round"/>
<path d="M397.51,554.82L401.81,562.02L393.21,562.02Z" fill="#151515" stroke="#151515" stroke-width="0.9" stroke-linejoin="round"/>
<path d="M453.80,569.01L458.10,576.21L449.50,576.21Z" fill="#151515" stroke="#151515" stroke-width="0.9" stroke-linejoin="round"/>
<text transform="translate(11.9,569.90) rotate(-90)" class="b" font-size="15" font-weight="bold" fill="#1a1a1a" textLength="96.9" lengthAdjust="spacingAndGlyphs">IgA-PES (O.D.)</text>
<text x="189.40" y="686.00" class="b" font-size="14" font-weight="bold" fill="#1a1a1a" textLength="135.30" lengthAdjust="spacingAndGlyphs">Days post-infection</text>
<line x1="474.00" y1="419.80" x2="508.70" y2="419.80" stroke="#808080" stroke-width="2.5" stroke-dasharray="0 5.4" stroke-linecap="round"/>
<rect x="487.70" y="415.60" width="8.4" height="8.4" fill="#808080"/>
<text x="513.40" y="424.00" font-size="13.4" fill="#1a1a1a" textLength="105" lengthAdjust="spacingAndGlyphs">Hay_Non-infected</text>
<line x1="473.70" y1="445.40" x2="510.20" y2="445.40" stroke="#151515" stroke-width="1.8"/>
<rect x="488.60" y="442.10" width="6.6" height="6.6" fill="#151515"/>
<text x="513.40" y="449.60" font-size="13.4" fill="#1a1a1a" textLength="77.5" lengthAdjust="spacingAndGlyphs">Hay_infected</text>
<line x1="474.00" y1="471.00" x2="508.70" y2="471.00" stroke="#808080" stroke-width="2.5" stroke-dasharray="0 5.4" stroke-linecap="round"/>
<circle cx="491.90" cy="471.00" r="4.2" fill="#808080"/>
<text x="513.40" y="475.20" font-size="13.4" fill="#1a1a1a" textLength="97.8" lengthAdjust="spacingAndGlyphs">CS_Non-infected</text>
<line x1="473.70" y1="496.60" x2="510.20" y2="496.60" stroke="#151515" stroke-width="1.8"/>
<circle cx="491.90" cy="496.60" r="3.9" fill="#151515"/>
<text x="513.40" y="500.80" font-size="13.4" fill="#1a1a1a" textLength="68.5" lengthAdjust="spacingAndGlyphs">CS_infected</text>
<line x1="474.00" y1="522.20" x2="508.70" y2="522.20" stroke="#808080" stroke-width="2.5" stroke-dasharray="0 5.4" stroke-linecap="round"/>
<path d="M491.90,519.16L495.50,525.96L488.30,525.96Z" fill="#808080" stroke="#808080" stroke-width="0.9" stroke-linejoin="round"/>
<text x="513.40" y="526.40" font-size="13.4" fill="#1a1a1a" textLength="105.5" lengthAdjust="spacingAndGlyphs">RPP_Non-infected</text>
<line x1="473.70" y1="547.80" x2="510.20" y2="547.80" stroke="#151515" stroke-width="1.8"/>
<path d="M491.90,544.76L495.50,551.56L488.30,551.56Z" fill="#151515" stroke="#151515" stroke-width="0.9" stroke-linejoin="round"/>
<text x="513.40" y="552.00" font-size="13.4" fill="#1a1a1a" textLength="77.5" lengthAdjust="spacingAndGlyphs">RPP_infected</text>
</svg>
</body></html>
